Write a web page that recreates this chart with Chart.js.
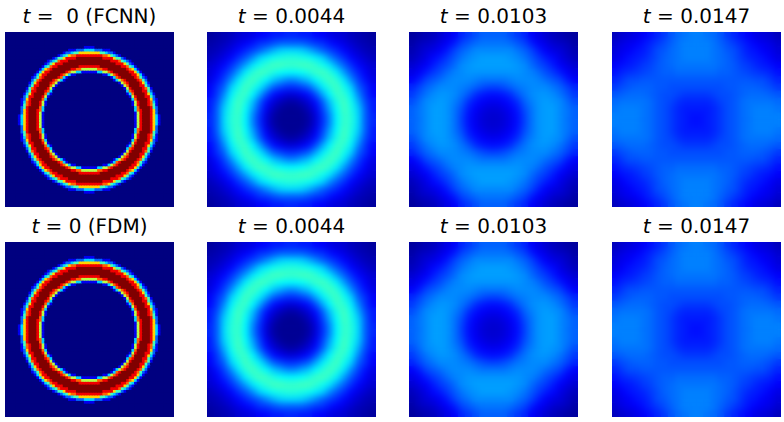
<!DOCTYPE html>
<html><head><meta charset="utf-8">
<style>
html,body{margin:0;padding:0;background:#fff;width:784px;height:422px;overflow:hidden}
canvas{position:absolute}
.t{position:absolute;width:220px;text-align:center;font:20px "DejaVu Sans";color:#000;white-space:pre;line-height:24px;text-rendering:geometricPrecision}
</style>
<script src="https://cdn.jsdelivr.net/npm/chart.js@4"></script>
</head><body>
<script>
// Quadrant values (row 0 / column 0 at the centre of the panel, mirrored to all four sides).
// Ring panels: one digit per cell in ninths, trailing zeros omitted.
const ringTenths = [
"00000000000000000158999863100000",
"00000000000000000158999863100000",
"00000000000000000158999862",
"00000000000000000378999862",
"00000000000000000379999842",
"00000000000000001589998741",
"00000000000000001589998731",
"00000000000000003799998621",
"0000000000000001589998842",
"0000000000000013799998631",
"000000000000003789998842",
"000000000000015899998741",
"00000000000015799998842",
"00000000000157899998631",
"0000000001357899998742",
"0000000013789999987421",
"000001135789999988631",
"11133557899999988631",
"5557788999999987631",
"888899999999887431",
"99999999998886421",
"9999999988874321",
"99999888864421",
"888887764321",
"6666443221",
"33222111",
"11",
"", "", "", "", ""];
const t0044 = [
[2,2,4,9,17,26,37,43,41,34,22,16],
[2,3,6,11,19,29,38,44,40,33,22,15],
[4,6,9,14,22,32,40,44,39,30,20,15],
[9,11,14,20,29,37,43,42,36,26,18,13],
[17,19,22,29,36,41,44,39,33,22,17,12],
[26,29,32,37,41,44,41,35,26,19,14,10],
[37,38,40,43,44,41,36,28,21,16,12,9],
[43,44,44,42,39,35,28,22,17,13,10,8],
[41,40,39,36,33,26,21,17,13,10,8,6],
[34,33,30,26,22,19,16,13,10,8,6,5],
[22,22,20,18,17,14,12,10,8,6,5,4],
[16,15,15,13,12,10,9,8,6,5,4,3]];
const t0103 = [
[8,9,11,14,19,24,27,28,28,26,24,22],
[9,10,12,15,20,24,27,28,28,26,24,22],
[11,12,14,17,22,25,27,28,27,26,23,20],
[14,15,17,21,24,26,27,27,26,24,21,18],
[19,20,22,24,25,26,26,26,24,22,19,16],
[24,24,25,26,26,26,25,23,21,19,15,12],
[27,27,27,27,26,25,23,20,18,15,12,10],
[28,28,28,27,26,23,20,18,15,12,10,8],
[28,28,27,26,24,21,18,15,13,10,8,6],
[26,26,26,24,22,19,15,12,10,9,7,5],
[24,24,23,21,19,15,12,10,8,7,6,4],
[22,22,20,18,16,12,10,8,6,5,4,3]];
const t0147 = [
[14,15,16,18,20,21,23,24,25,25,25,25],
[15,15,16,18,20,21,23,24,25,25,25,24],
[16,16,17,19,20,21,23,24,24,24,24,23],
[18,18,19,20,20,21,22,23,23,23,22,21],
[20,20,20,20,21,21,22,22,22,21,20,18],
[21,21,21,21,21,21,21,21,20,20,18,16],
[23,23,23,22,22,21,20,19,18,17,16,14],
[24,24,24,23,22,21,19,18,16,15,14,12],
[25,25,24,23,22,20,18,16,15,14,12,10],
[25,25,24,23,21,20,17,15,14,12,11,9],
[25,25,24,22,20,18,16,14,12,11,10,8],
[25,24,23,21,18,16,14,12,10,9,8,6]];
const ringGrid = ringTenths.map(r => [...r.padEnd(32, '0')].map(c => +c / 9));
const percent = g => g.map(r => r.map(v => v / 100));

const panelLefts = [5, 207, 409, 612];
const panelTops = [32, 242];
const panelW = 169, panelH = 175;
const titleRows = [
  ['<i>t</i> =  0 (FCNN)', '<i>t</i> = 0.0044', '<i>t</i> = 0.0103', '<i>t</i> = 0.0147'],
  ['<i>t</i> = 0 (FDM)', '<i>t</i> = 0.0044', '<i>t</i> = 0.0103', '<i>t</i> = 0.0147']
];
const quadrants = [ringGrid, percent(t0044), percent(t0103), percent(t0147)];
const blurs = [0.6, 3, 3, 3];

function jet(v) {
  const c = x => Math.round(255 * Math.max(0, Math.min(1, x)));
  const r = Math.min(4 * v - 1.5, -4 * v + 4.5);
  const g = Math.min(4 * v - 0.5, -4 * v + 3.5);
  const b = Math.min(4 * v + 0.5, -4 * v + 2.5);
  return `rgb(${c(r)},${c(g)},${c(b)})`;
}
const smooth = {
  id: 'smooth',
  afterDatasetsDraw(chart, a, o) {
    const ctx = chart.ctx;
    ctx.save();
    ctx.filter = `blur(${o.px}px)`;
    ctx.drawImage(chart.canvas, 0, 0);
    ctx.restore();
  }
};
function cells(q) {
  const n = q.length, pts = [];
  for (let j = -n; j < n; j++) for (let i = -n; i < n; i++) {
    const v = q[j < 0 ? -j - 1 : j][i < 0 ? -i - 1 : i];
    pts.push({ x: i + n, y: j + n, v });
  }
  return pts;
}
panelTops.forEach((top, row) => panelLefts.forEach((left, col) => {
  const t = document.createElement('div');
  t.className = 't';
  t.innerHTML = titleRows[row][col];
  t.style.left = (left + panelW / 2 - 110) + 'px';
  t.style.top = (top - 28) + 'px';
  document.body.appendChild(t);
  const cv = document.createElement('canvas');
  cv.style.left = left + 'px'; cv.style.top = top + 'px';
  cv.style.width = panelW + 'px'; cv.style.height = panelH + 'px';
  cv.width = panelW; cv.height = panelH;
  document.body.appendChild(cv);
  const n = quadrants[col].length;
  new Chart(cv, {
    type: 'scatter',
    data: { datasets: [{ data: cells(quadrants[col]), showLine: false, clip: false,
      pointStyle: 'rect', borderWidth: 0,
      pointBackgroundColor: c => jet(c.raw.v),
      pointRadius: c => {
        const s = c.chart.scales;
        const w = Math.abs(s.x.getPixelForValue(1) - s.x.getPixelForValue(0));
        const h = Math.abs(s.y.getPixelForValue(1) - s.y.getPixelForValue(0));
        return (Math.max(w, h) + 0.6) * Math.SQRT1_2;
      } }] },
    options: {
      responsive: false, animation: false,
      layout: { padding: 0 },
      events: [],
      scales: {
        x: { type: 'linear', display: false, min: -0.5, max: 2 * n - 0.5 },
        y: { type: 'linear', display: false, min: -0.5, max: 2 * n - 0.5 }
      },
      plugins: { legend: { display: false }, tooltip: { enabled: false }, smooth: { px: blurs[col] } }
    },
    plugins: [smooth]
  });
}));
</script>
</body></html>
